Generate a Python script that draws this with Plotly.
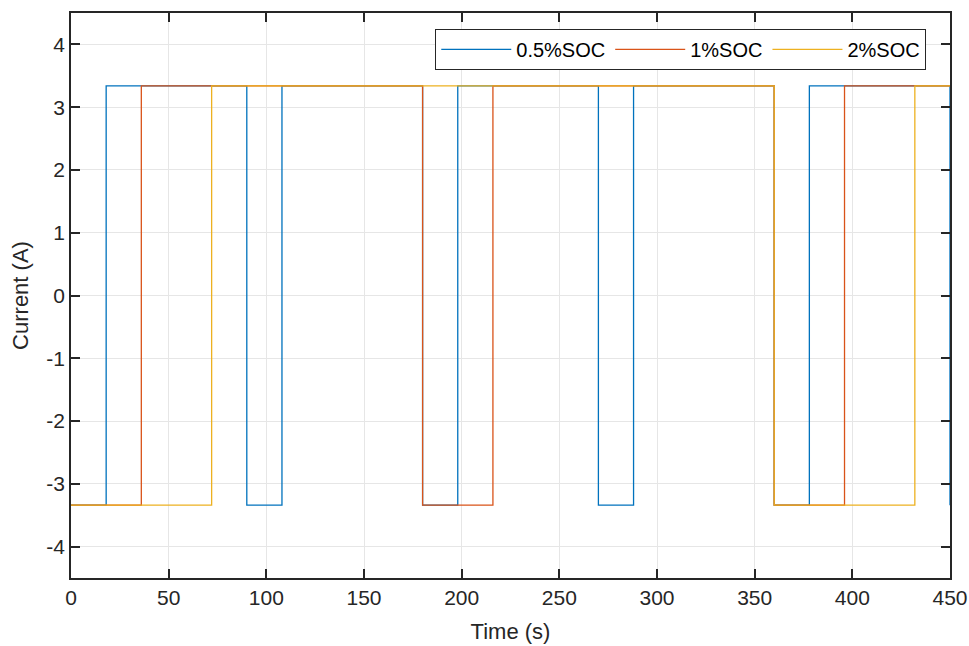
import plotly.graph_objects as go

# Data (step profiles)
t_05 = [0, 18, 90, 108, 180, 198, 270, 288, 360, 378, 450]
i_05 = [-3.34, 3.34, -3.34, 3.34, -3.34, 3.34, -3.34, 3.34, -3.34, 3.34, -3.34]
t_1 = [0, 36, 180, 216, 360, 396, 450]
i_1 = [-3.34, 3.34, -3.34, 3.34, -3.34, 3.34, 3.34]
t_2 = [0, 72, 360, 432, 450]
i_2 = [-3.34, 3.34, -3.34, 3.34, 3.34]

names = ["0.5%SOC", "1%SOC", "2%SOC"]
colors = ["#0072BD", "#D95319", "#EDB120"]
x_ticks = [0, 50, 100, 150, 200, 250, 300, 350, 400, 450]
y_ticks = [-4, -3, -2, -1, 0, 1, 2, 3, 4]
y_tick_text = ["-4", "-3", "-2", "-1", "0", "1", "2", "3", "4"]

FONT = "Liberation Sans, Arial"

fig = go.Figure()
for t, i, n, c in zip([t_05, t_1, t_2], [i_05, i_1, i_2], names, colors):
    fig.add_trace(go.Scatter(x=t, y=i, mode="lines", name=n,
                             line=dict(color=c, width=1.3, shape="hv")))

axis_common = dict(
    showline=True, linecolor="#262626", linewidth=1.5, mirror="ticks",
    ticks="inside", ticklen=9, tickwidth=1.5, tickcolor="#262626",
    showgrid=True, gridcolor="#e6e6e6", gridwidth=1, zeroline=False,
    tickfont=dict(family=FONT, size=21, color="#262626"),
    automargin=False,
)

fig.update_xaxes(range=[0, 450], tickvals=x_ticks,
                 title=dict(text="Time (s)", font=dict(family=FONT, size=22, color="#262626"), standoff=16),
                 **axis_common)
fig.update_yaxes(range=[-4.5, 4.5], tickvals=y_ticks, ticktext=y_tick_text,
                 title=dict(text="Current (A)", font=dict(family=FONT, size=22, color="#262626"), standoff=12),
                 **axis_common)

fig.update_layout(
    width=969, height=646,
    margin=dict(l=71, r=19, t=13, b=68),
    plot_bgcolor="white", paper_bgcolor="white",
    legend=dict(orientation="h", x=0.973, y=0.972, xanchor="right", yanchor="top",
                bordercolor="#262626", borderwidth=1, bgcolor="white",
                font=dict(family=FONT, size=20, color="#000000"),
                itemwidth=70, tracegroupgap=0),
)

fig.write_html("out.html")
